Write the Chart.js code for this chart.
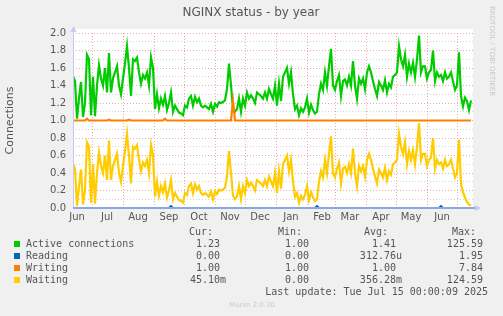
<!DOCTYPE html>
<html lang="en">
<head>
<meta charset="utf-8" />
<title>NGINX status - by year</title>
<script src="https://cdn.jsdelivr.net/npm/chart.js@4.4.4/dist/chart.umd.min.js"></script>
<style>
  html, body { margin: 0; padding: 0; background: #f0f0f0; }
  #wrap { position: relative; width: 503px; height: 316px; }
</style>
</head>
<body>
<div id="wrap"><canvas id="stage"></canvas></div>
<script>
// x = day index, 0 = 2024-06-12, one sample every 2 days up to 2025-07-14
const days = Array.from({ length: 200 }, (_, k) => k * 2);

const active = [
  1.51, 1.45, 1.02, 1.25, 1.44, 1.04, 1.20, 1.75, 1.70, 1.06,
  1.50, 1.05, 1.40, 1.63, 1.48, 1.40, 1.60, 1.32, 1.77, 1.32,
  1.48, 1.55, 1.62, 1.40, 1.30, 1.48, 1.65, 1.85, 1.60, 1.28,
  1.70, 1.68, 1.72, 1.55, 1.42, 1.52, 1.48, 1.55, 1.40, 1.72,
  1.60, 1.13, 1.30, 1.14, 1.25, 1.18, 1.28, 1.12, 1.20, 1.32,
  1.10, 1.17, 1.13, 1.09, 1.08, 1.06, 1.17, 1.15, 1.25, 1.28,
  1.17, 1.27, 1.21, 1.25, 1.17, 1.15, 1.17, 1.15, 1.13, 1.19,
  1.10, 1.19, 1.16, 1.21, 1.20, 1.21, 1.23, 1.36, 1.65, 1.40,
  1.14, 1.10, 1.13, 1.25, 1.10, 1.25, 1.17, 1.32, 1.25, 1.29,
  1.25, 1.20, 1.32, 1.30, 1.28, 1.25, 1.32, 1.25, 1.36, 1.30,
  1.25, 1.40, 1.17, 1.42, 1.22, 1.50, 1.55, 1.60, 1.42, 1.55,
  1.30, 1.13, 1.17, 1.06, 1.14, 1.10, 1.15, 1.25, 1.09, 1.18,
  1.12, 1.08, 1.10, 1.30, 1.42, 1.35, 1.55, 1.40, 1.62, 1.82,
  1.40, 1.35, 1.45, 1.52, 1.28, 1.45, 1.47, 1.40, 1.50, 1.40,
  1.68, 1.40, 1.25, 1.48, 1.42, 1.48, 1.36, 1.55, 1.62, 1.55,
  1.45, 1.36, 1.28, 1.44, 1.40, 1.35, 1.46, 1.32, 1.42, 1.38,
  1.50, 1.52, 1.55, 1.85, 1.70, 1.62, 1.75, 1.50, 1.65, 1.55,
  1.66, 1.50, 1.70, 1.97, 1.55, 1.62, 1.62, 1.48, 1.55, 1.58,
  1.80, 1.45, 1.55, 1.50, 1.52, 1.45, 1.55, 1.48, 1.50, 1.55,
  1.45, 1.35, 1.40, 1.78, 1.28, 1.16, 1.26, 1.22, 1.12, 1.23
];

const reading = [
  0, 0, 0, 0, 0, 0, 0, 0, 0, 0,
  0, 0, 0, 0, 0, 0, 0, 0, 0, 0,
  0, 0, 0, 0, 0, 0, 0, 0, 0, 0,
  0, 0, 0, 0, 0, 0, 0, 0, 0, 0,
  0, 0, 0, 0, 0, 0, 0, 0, 0, 0.02,
  0, 0, 0, 0, 0, 0, 0, 0, 0, 0,
  0, 0, 0, 0, 0, 0, 0, 0, 0, 0,
  0, 0, 0, 0, 0, 0, 0, 0, 0, 0,
  0, 0, 0, 0, 0, 0, 0, 0, 0, 0,
  0, 0, 0, 0, 0, 0, 0, 0, 0, 0,
  0, 0, 0, 0, 0, 0, 0, 0, 0, 0,
  0, 0, 0, 0, 0, 0, 0, 0, 0, 0,
  0, 0, 0.02, 0, 0, 0, 0, 0, 0, 0,
  0, 0, 0, 0, 0, 0, 0, 0, 0, 0,
  0, 0, 0, 0, 0, 0, 0, 0, 0, 0,
  0, 0, 0, 0, 0, 0, 0, 0, 0, 0,
  0, 0, 0, 0, 0, 0, 0, 0, 0, 0,
  0, 0, 0, 0, 0, 0, 0, 0, 0, 0,
  0, 0, 0, 0, 0.02, 0, 0, 0, 0, 0,
  0, 0, 0, 0, 0, 0, 0, 0, 0, 0
];

const writing = [
  1, 1, 1, 1, 1, 1, 1, 1.02, 1, 1,
  1, 1, 1, 1, 1, 1, 1, 1, 1.01, 1,
  1, 1, 1, 1, 1, 1, 1, 1, 1.01, 1,
  1, 1, 1, 1, 1, 1, 1, 1, 1, 1,
  1, 1, 1, 1, 1, 1, 1.02, 1, 1, 1,
  1, 1, 1, 1, 1, 1, 1, 1, 1, 1,
  1, 1, 1, 1, 1, 1, 1, 1, 1, 1,
  1, 1, 1, 1, 1, 1, 1, 1, 1, 1,
  1.22, 1, 1, 1, 1, 1, 1, 1, 1, 1,
  1, 1, 1, 1, 1, 1, 1, 1, 1, 1,
  1, 1, 1, 1, 1, 1, 1, 1, 1, 1,
  1, 1, 1, 1, 1, 1, 1, 1, 1, 1,
  1, 1, 1, 1, 1, 1, 1, 1, 1, 1,
  1, 1, 1, 1, 1, 1, 1, 1, 1, 1,
  1, 1, 1, 1, 1, 1, 1, 1, 1, 1,
  1, 1, 1, 1, 1, 1, 1, 1, 1, 1,
  1, 1, 1, 1, 1, 1, 1, 1, 1, 1,
  1, 1, 1, 1, 1, 1, 1, 1, 1, 1,
  1, 1, 1, 1, 1, 1, 1, 1, 1, 1,
  1, 1, 1, 1, 1, 1, 1, 1, 1, 1
];

const waiting = [
  0.51, 0.45, 0.02, 0.25, 0.44, 0.04, 0.20, 0.75, 0.70, 0.06,
  0.50, 0.05, 0.40, 0.63, 0.48, 0.40, 0.60, 0.32, 0.77, 0.32,
  0.48, 0.55, 0.62, 0.40, 0.30, 0.48, 0.65, 0.85, 0.60, 0.28,
  0.70, 0.68, 0.72, 0.55, 0.42, 0.52, 0.48, 0.55, 0.40, 0.72,
  0.60, 0.13, 0.30, 0.14, 0.25, 0.18, 0.28, 0.12, 0.20, 0.32,
  0.10, 0.17, 0.13, 0.09, 0.08, 0.06, 0.17, 0.15, 0.25, 0.28,
  0.17, 0.27, 0.21, 0.25, 0.17, 0.15, 0.17, 0.15, 0.13, 0.19,
  0.10, 0.19, 0.16, 0.21, 0.20, 0.21, 0.23, 0.36, 0.65, 0.40,
  0.14, 0.10, 0.13, 0.25, 0.10, 0.25, 0.17, 0.32, 0.25, 0.29,
  0.25, 0.20, 0.32, 0.30, 0.28, 0.25, 0.32, 0.25, 0.36, 0.30,
  0.25, 0.40, 0.17, 0.42, 0.22, 0.50, 0.55, 0.60, 0.42, 0.55,
  0.30, 0.13, 0.17, 0.06, 0.14, 0.10, 0.15, 0.25, 0.09, 0.18,
  0.12, 0.08, 0.10, 0.30, 0.42, 0.35, 0.55, 0.40, 0.62, 0.82,
  0.40, 0.35, 0.45, 0.52, 0.28, 0.45, 0.47, 0.40, 0.50, 0.40,
  0.68, 0.40, 0.25, 0.48, 0.42, 0.48, 0.36, 0.55, 0.62, 0.55,
  0.45, 0.36, 0.28, 0.44, 0.40, 0.35, 0.46, 0.32, 0.42, 0.38,
  0.50, 0.52, 0.55, 0.85, 0.70, 0.62, 0.75, 0.50, 0.65, 0.55,
  0.66, 0.50, 0.70, 0.97, 0.55, 0.62, 0.62, 0.48, 0.55, 0.58,
  0.80, 0.45, 0.55, 0.50, 0.52, 0.45, 0.55, 0.48, 0.50, 0.55,
  0.45, 0.35, 0.40, 0.78, 0.28, 0.18, 0.12, 0.07, 0.04, 0.03
];

// month boundaries (grid) and mid-month label positions, in day index
const monthStarts = [19, 50, 81, 111, 142, 172, 203, 234, 262, 293, 323, 354, 384];
const monthMids = [4, 34, 65, 96, 126, 157, 187, 218, 249, 277, 308, 338, 369];
const monthLabels = ['Jun', 'Jul', 'Aug', 'Sep', 'Oct', 'Nov', 'Dec', 'Jan', 'Feb', 'Mar', 'Apr', 'May', 'Jun'];
const yTicks = [0, 0.1, 0.2, 0.3, 0.4, 0.5, 0.6, 0.7, 0.8, 0.9, 1.0,
                1.1, 1.2, 1.3, 1.4, 1.5, 1.6, 1.7, 1.8, 1.9, 2.0];

// legend table
const seriesNames = ['Active connections', 'Reading', 'Writing', 'Waiting'];
const seriesColors = ['#00cc00', '#0066b3', '#ff8000', '#ffcc00'];
const curValues = ['1.23 ', '0.00 ', '1.00 ', '45.10m'];
const minValues = ['1.00 ', '0.00 ', '1.00 ', '0.00 '];
const avgValues = ['1.41 ', '312.76u', '1.00 ', '356.28m'];
const maxValues = ['125.59 ', '1.95 ', '7.84 ', '124.59 '];
const lastUpdate = 'Last update: Tue Jul 15 00:00:09 2025';

const TEXT = '#555555';
const MAJOR = 'rgba(232,140,140,0.75)';
const MINOR = 'rgba(175,175,175,0.55)';
const xTicks = monthMids.concat(monthStarts).sort((a, b) => a - b);

function points(values) {
  return days.map((d, k) => ({ x: d, y: values[k] }));
}

const muninFrame = {
  id: 'muninFrame',
  beforeDraw(chart) {
    const { ctx, chartArea: a } = chart;
    ctx.save();
    ctx.fillStyle = '#ffffff';
    ctx.fillRect(a.left, a.top - 4, a.right - a.left, a.bottom - a.top + 4);
    ctx.restore();
  },
  afterDatasetsDraw(chart) {
    const { ctx, chartArea: a } = chart;
    ctx.save();
    // left axis with arrow
    ctx.strokeStyle = 'rgb(200,200,240)';
    ctx.fillStyle = 'rgb(200,200,240)';
    ctx.lineWidth = 1;
    ctx.beginPath();
    ctx.moveTo(a.left + 0.5, a.bottom);
    ctx.lineTo(a.left + 0.5, a.top - 3);
    ctx.stroke();
    ctx.beginPath();
    ctx.moveTo(a.left - 2.5, a.top - 1);
    ctx.lineTo(a.left + 3.5, a.top - 1);
    ctx.lineTo(a.left + 0.5, a.top - 7);
    ctx.fill();
    // bottom axis with arrow
    ctx.beginPath();
    ctx.moveTo(a.right + 2, a.bottom - 3);
    ctx.lineTo(a.right + 2, a.bottom + 3);
    ctx.lineTo(a.right + 8, a.bottom);
    ctx.fill();
    ctx.strokeStyle = 'rgb(140,168,228)';
    ctx.lineWidth = 2;
    ctx.beginPath();
    ctx.moveTo(a.left, a.bottom);
    ctx.lineTo(a.right + 2, a.bottom);
    ctx.stroke();
    ctx.restore();
  },
  afterDraw(chart) {
    const ctx = chart.ctx;
    ctx.save();
    ctx.fillStyle = TEXT;
    ctx.textBaseline = 'middle';
    ctx.textAlign = 'center';
    ctx.font = '12px "DejaVu Sans"';
    ctx.fillText('NGINX status - by year', 251, 13);

    // vertical rrdtool credit
    ctx.save();
    ctx.translate(492, 6);
    ctx.rotate(Math.PI / 2);
    ctx.textAlign = 'left';
    ctx.fillStyle = '#c8c8c8';
    ctx.font = '7px "DejaVu Sans"';
    ctx.fillText('RRDTOOL / TOBI OETIKER', 0, 0);
    ctx.restore();

    // legend table
    ctx.font = '10px "DejaVu Sans Mono"';
    ctx.fillStyle = TEXT;
    ctx.textAlign = 'right';
    ctx.fillText('Cur:', 213, 232);
    ctx.fillText('Min:', 302, 232);
    ctx.fillText('Avg:', 388, 232);
    ctx.fillText('Max:', 476, 232);
    seriesNames.forEach((name, k) => {
      const y = 244 + k * 12;
      ctx.fillStyle = seriesColors[k];
      ctx.fillRect(14, y - 3, 6, 6);
      ctx.fillStyle = TEXT;
      ctx.textAlign = 'left';
      ctx.fillText(name, 26, y);
      ctx.textAlign = 'right';
      ctx.fillText(curValues[k], 226, y);
      ctx.fillText(minValues[k], 315, y);
      ctx.fillText(avgValues[k], 402, y);
      ctx.fillText(maxValues[k], 489, y);
    });
    ctx.fillText(lastUpdate, 488, 292);

    ctx.textAlign = 'center';
    ctx.fillStyle = '#cccccc';
    ctx.font = '7px "DejaVu Sans"';
    ctx.fillText('Munin 2.0.30', 252, 305);
    ctx.restore();
  }
};

function isMajorY(v) {
  return Math.round(v * 10) % 2 === 0;
}

new Chart(document.getElementById('stage'), {
  type: 'line',
  data: {
    datasets: [
      { label: 'Active connections', data: points(active), borderColor: seriesColors[0], order: 3 },
      { label: 'Reading', data: points(reading), borderColor: seriesColors[1], order: 2 },
      { label: 'Writing', data: points(writing), borderColor: seriesColors[2], order: 1 },
      { label: 'Waiting', data: points(waiting), borderColor: seriesColors[3], order: 0 }
    ]
  },
  options: {
    responsive: true,
    maintainAspectRatio: false,
    animation: false,
    layout: { padding: { left: 0, right: 30, top: 33, bottom: 88 } },
    elements: {
      point: { radius: 0 },
      line: { borderWidth: 2.2, tension: 0, fill: false }
    },
    plugins: {
      legend: { display: false },
      tooltip: { enabled: false },
      title: { display: false }
    },
    scales: {
      x: {
        type: 'linear',
        min: 0,
        max: 400,
        afterBuildTicks: s => { s.ticks = xTicks.map(v => ({ value: v })); },
        afterFit: s => { s.height = 20; },
        ticks: {
          autoSkip: false,
          maxRotation: 0,
          padding: 3,
          color: TEXT,
          font: { family: 'DejaVu Sans', size: 10 },
          callback: v => {
            const k = monthMids.indexOf(v);
            return k < 0 ? '' : monthLabels[k];
          }
        },
        grid: {
          drawTicks: false,
          color: c => (c.tick && monthStarts.includes(c.tick.value)) ? MAJOR : 'rgba(0,0,0,0)'
        },
        border: { display: false, dash: [1, 2] }
      },
      y: {
        min: 0,
        max: 2,
        afterBuildTicks: s => { s.ticks = yTicks.map(v => ({ value: v })); },
        afterFit: s => { s.width = 73; },
        ticks: {
          autoSkip: false,
          padding: 7,
          color: TEXT,
          font: { family: 'DejaVu Sans', size: 10 },
          callback: v => isMajorY(v) ? v.toFixed(1) : ''
        },
        grid: {
          drawTicks: false,
          color: c => (c.tick && isMajorY(c.tick.value)) ? MAJOR : MINOR
        },
        border: { display: false, dash: [1, 2] },
        title: {
          display: true,
          text: 'Connections',
          color: TEXT,
          font: { family: 'DejaVu Sans', size: 11 }
        }
      }
    }
  },
  plugins: [muninFrame]
});
</script>
</body>
</html>
